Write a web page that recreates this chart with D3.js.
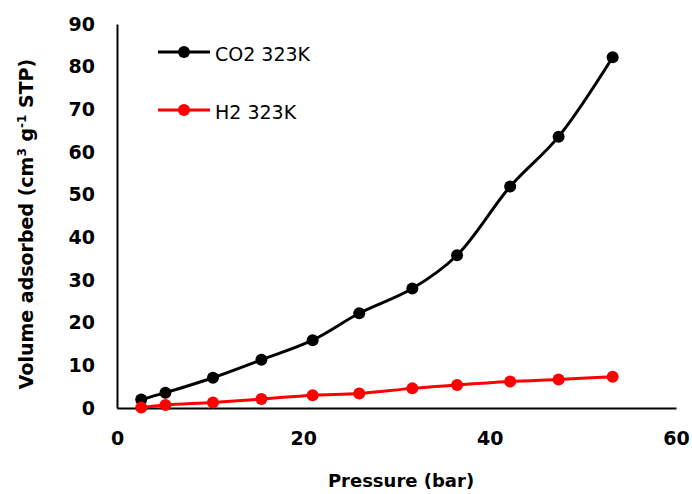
<!DOCTYPE html>
<html>
<head>
<meta charset="utf-8">
<script src="https://cdn.jsdelivr.net/npm/d3@7/dist/d3.min.js"></script>
<style>
  html, body { margin: 0; padding: 0; background: #fff; }
  svg { display: block; }
</style>
</head>
<body>
<script>
// ---- Data ----
const pressure = [2.6, 5.2, 10.3, 15.5, 21.0, 26.0, 31.7, 36.5, 42.2, 47.4, 53.2];
const co2Values = [2.0, 3.6, 7.1, 11.3, 15.9, 22.2, 28.0, 35.8, 51.9, 63.6, 82.2];
const h2Values = [0.1, 0.7, 1.3, 2.1, 3.0, 3.4, 4.6, 5.4, 6.2, 6.7, 7.3];
const seriesNames = ["CO2 323K", "H2 323K"];
const seriesColors = ["#000000", "#ff0000"];
const xTicks = [0, 20, 40, 60];
const yTicks = [0, 10, 20, 30, 40, 50, 60, 70, 80, 90];

const W = 692, H = 494;
const margin = { left: 117, right: 16, top: 24, bottom: 86 };

const svg = d3.select("body").append("svg").attr("width", W).attr("height", H);

const x = d3.scaleLinear().domain([0, 60]).range([margin.left, W - margin.right]);
const y = d3.scaleLinear().domain([0, 90]).range([H - margin.bottom, margin.top]);

const font = "'DejaVu Sans', sans-serif";

// Axes (no tick marks)
const xAxis = svg.append("g")
  .attr("transform", `translate(0,${y(0)})`)
  .call(d3.axisBottom(x).tickValues(xTicks).tickSize(0).tickPadding(24).tickFormat(d3.format("d")));
const yAxis = svg.append("g")
  .attr("transform", `translate(${x(0)},0)`)
  .call(d3.axisLeft(y).tickValues(yTicks).tickSize(0).tickPadding(22).tickFormat(d3.format("d")));

[xAxis, yAxis].forEach(g => {
  g.select(".domain").attr("stroke", "#000").attr("stroke-width", 2);
  g.selectAll("text")
    .attr("font-family", font)
    .attr("font-weight", "bold")
    .attr("font-size", 19)
    .attr("fill", "#000");
});

// Series
const series = [
  { name: seriesNames[0], color: seriesColors[0], values: co2Values },
  { name: seriesNames[1], color: seriesColors[1], values: h2Values }
];

const line = d3.line()
  .x(d => x(d[0]))
  .y(d => y(d[1]))
  .curve(d3.curveCatmullRom.alpha(0.5));

series.forEach(s => {
  const pts = pressure.map((p, i) => [p, s.values[i]]);
  const g = svg.append("g");
  g.append("path")
    .attr("d", line(pts))
    .attr("fill", "none")
    .attr("stroke", s.color)
    .attr("stroke-width", 3);
  g.selectAll("circle").data(pts).enter().append("circle")
    .attr("cx", d => x(d[0]))
    .attr("cy", d => y(d[1]))
    .attr("r", 6)
    .attr("fill", s.color);
});

// Legend
const legendY = [52, 110];
series.forEach((s, i) => {
  const g = svg.append("g");
  g.append("line")
    .attr("x1", 158).attr("x2", 210)
    .attr("y1", legendY[i]).attr("y2", legendY[i])
    .attr("stroke", s.color).attr("stroke-width", 3);
  g.append("circle")
    .attr("cx", 184).attr("cy", legendY[i]).attr("r", 6)
    .attr("fill", s.color);
  g.append("text")
    .attr("x", 215).attr("y", legendY[i] + 9)
    .attr("font-family", font)
    .attr("font-size", 19)
    .attr("fill", "#000")
    .text(s.name);
});

// X axis title
svg.append("text")
  .attr("x", 401).attr("y", 487)
  .attr("text-anchor", "middle")
  .attr("font-family", font)
  .attr("font-weight", "bold")
  .attr("font-size", 18)
  .attr("fill", "#000")
  .text("Pressure (bar)");

// Y axis title with superscripts
const yt = svg.append("text")
  .attr("transform", "translate(33,224) rotate(-90)")
  .attr("text-anchor", "middle")
  .attr("font-family", font)
  .attr("font-weight", "bold")
  .attr("font-size", 19)
  .attr("fill", "#000");
yt.append("tspan").text("Volume adsorbed (cm");
yt.append("tspan").attr("baseline-shift", "super").attr("font-size", 12).text("3");
yt.append("tspan").text(" g");
yt.append("tspan").attr("baseline-shift", "super").attr("font-size", 12).text("-1");
yt.append("tspan").text(" STP)");
</script>
</body>
</html>
